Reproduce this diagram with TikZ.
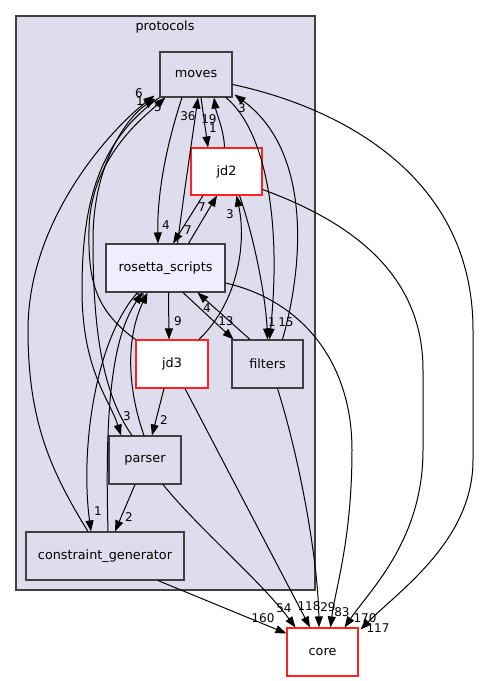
\documentclass[tikz,border=0pt]{standalone}
\usepackage{fontspec}
\setmainfont{DejaVu Sans}
\usetikzlibrary{arrows.meta,calc}
\definecolor{clfill}{HTML}{DDDDEE}
\definecolor{rsfill}{HTML}{EEEEFF}
\definecolor{bord}{HTML}{404040}
\definecolor{redb}{HTML}{FF2222}
\begin{document}
\begin{tikzpicture}[x=1pt,y=-1pt,
  box/.style={draw=bord, line width=1.1pt, fill=clfill, inner sep=0pt, font=\fontsize{12.8}{15}\selectfont},
  redbox/.style={box, draw=redb, fill=white},
  e/.style={line width=1pt, -{Triangle[length=11pt,width=8pt]}},
  lbl/.style={inner sep=0pt, font=\fontsize{12}{14}\selectfont}]
\useasboundingbox (0,0) rectangle (480,681);
\node[draw=bord, fill=clfill, line width=1.1pt, minimum width=299pt, minimum height=574pt, inner sep=0pt] (cluster) at (165.5,303) {};
\node[inner sep=0pt, font=\fontsize{12.8}{15}\selectfont] (title) at (165,27) {protocols};
% nodes
\node[box, minimum width=72pt, minimum height=45pt] (moves) at (196,74.5) {moves};
\node[redbox, minimum width=71pt, minimum height=47pt] (jd2) at (226.5,171.5) {jd2};
\node[box, fill=rsfill, minimum width=119pt, minimum height=48pt] (rs) at (165.5,268) {rosetta\_scripts};
\node[redbox, minimum width=72pt, minimum height=48pt] (jd3) at (172,364) {jd3};
\node[box, minimum width=71pt, minimum height=48pt] (filters) at (267.5,364) {filters};
\node[box, minimum width=72pt, minimum height=48pt] (parser) at (145,460) {parser};
\node[box, minimum width=158pt, minimum height=48pt] (cg) at (105,556) {constraint\_generator};
\node[redbox, minimum width=71pt, minimum height=48pt] (core) at (322.5,652) {core};
% edges
\draw[e] ($(moves.south)+(5,0)$) -- ($(jd2.north)+(-18.5,0)$);
\node[lbl] (l1) at (213,128) {1};
\draw[e] ($(jd2.north)+(-2,0)$) .. controls (224,130) and (216,112) .. ($(moves.south)+(18,0)$);
\node[lbl] (l2) at (209,119) {19};
\draw[e] ($(rs.north)+(12,0)$) .. controls (183,200) and (192,140) .. ($(moves.south)+(2,0)$);
\node[lbl] (l3) at (188,116) {36};
\draw[e] ($(moves.south)+(-14,0)$) .. controls (168,140) and (157,190) .. ($(rs.north)+(-7.5,0)$);
\node[lbl] (l4) at (166,225) {4};
\draw[e] ($(rs.north)+(23,0)$) -- ($(jd2.south)+(-9.5,0)$);
\node[lbl] (l5) at (202,207) {7};
\draw[e] ($(jd2.south)+(-23.5,0)$) -- ($(rs.north)+(7.5,0)$);
\node[lbl] (l6) at (188,230) {7};
\draw[e] ($(jd3.north)+(27,0)$) .. controls (240,300) and (246,240) .. ($(jd2.south)+(10,0)$);
\node[lbl] (l7) at (230,214) {3};
\draw[e] ($(jd2.south)+(13,0)$) .. controls (255,240) and (266,300) .. (filters.north);
\node[lbl] (l8) at (272,322) {1};
\draw[e] ($(moves.south)+(30,0)$) .. controls (265,130) and (282,220) .. ($(filters.north)+(2,0)$);
\node[lbl] (l9) at (286,322) {15};
\draw[e] ($(filters.north)+(15,0)$) .. controls (305,260) and (310,150) .. ($(moves.south east)+(2,-3)$);
\node[lbl] (l10) at (242,108) {3};
\draw[e] ($(moves.east)+(0,10)$) .. controls (330,105) and (473,170) .. (473,330) -- (473,460) .. controls (473,540) and (400,590) .. ($(core.north east)+(2,2)$);
\node[lbl] (l11) at (378,628) {117};
\draw[e] ($(jd2.east)+(0,18)$) .. controls (360,225) and (423,280) .. (423,370) -- (423,450) .. controls (423,540) and (370,590) .. ($(core.north east)+(-14,0)$);
\node[lbl] (l12) at (365,618) {170};
\draw[e] ($(rs.east)+(0,15)$) .. controls (300,300) and (352,360) .. (352,450) .. controls (352,540) and (335,590) .. ($(core.north)+(8,0)$);
\node[lbl] (l13) at (342,612) {83};
\draw[e] ($(filters.south)+(10,0)$) .. controls (300,460) and (318,560) .. ($(core.north)+(-3.5,0)$);
\node[lbl] (l14) at (328,607) {29};
\draw[e] ($(jd3.south)+(13,0)$) -- ($(core.north)+(-12.5,0)$);
\node[lbl] (l15) at (309,606) {118};
\draw[e] ($(parser.south)+(18,0)$) .. controls (200,530) and (260,580) .. ($(core.north)+(-27,0)$);
\node[lbl] (l16) at (284,608) {54};
\draw[e] ($(cg.south)+(53,0)$) -- ($(core.north west)+(0,6)$);
\node[lbl] (l17) at (263,618) {160};
\draw[e] ($(rs.south)+(3,0)$) -- ($(jd3.north)+(-3,0)$);
\node[lbl] (l18) at (178,321) {9};
\draw[e] ($(rs.south)+(17.5,0)$) -- ($(filters.north)+(-34,0)$);
\node[lbl] (l19) at (226,321) {13};
\draw[e] ($(filters.north)+(-17.5,0)$) -- ($(rs.south)+(32,0)$);
\node[lbl] (l20) at (207,308) {4};
\draw[e] ($(jd3.south)+(-8,0)$) -- ($(parser.north)+(7,0)$);
\node[lbl] (l21) at (164,420) {2};
\draw[e] ($(parser.south)+(-10,0)$) -- ($(cg.north)+(10,0)$);
\node[lbl] (l22) at (129,517) {2};
\draw[e] ($(rs.south)+(-28,0)$) .. controls (95,340) and (80,450) .. ($(cg.north)+(-14,0)$);
\node[lbl] (l23) at (98,511) {1};
\draw[e] ($(cg.north)+(3,0)$) .. controls (105,420) and (110,340) .. ($(rs.south)+(-23,0)$);
\node[lbl] (l24) at (139,298) {1};
\draw[e] ($(parser.north)+(-1,0)$) .. controls (128,390) and (125,340) .. ($(rs.south)+(-18,0)$);
\node[lbl] (l25) at (143,298) {1};
\draw[e] (moves.south west) .. controls (100,140) and (82,200) .. (82,290) .. controls (82,370) and (110,400) .. ($(parser.north)+(-24,0)$);
\node[lbl] (l26) at (127,416) {3};
\draw[e] ($(parser.north)+(-13,0)$) .. controls (100,390) and (93,320) .. (93,240) .. controls (93,160) and (130,115) .. ($(moves.south west)+(-4,1)$);
\node[lbl] (l27) at (140,101) {1};
\draw[e] (jd3.north west) .. controls (95,310) and (88,280) .. (89,230) .. controls (90,160) and (140,120) .. ($(moves.south west)+(6,0)$);
\node[lbl] (l28) at (158,107) {5};
\draw[e] ($(cg.north)+(-17,0)$) .. controls (50,470) and (28,420) .. (28,330) .. controls (28,220) and (110,130) .. ($(moves.south west)+(-5,-2)$);
\node[lbl] (l29) at (139,93) {6};
\end{tikzpicture}
\end{document}
